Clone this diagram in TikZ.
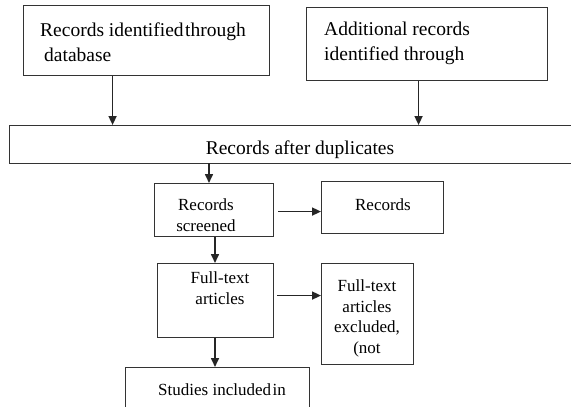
\documentclass[tikz,border=0pt]{standalone}
\usepackage{fontspec}
\setmainfont{Liberation Serif}
\usetikzlibrary{arrows.meta}
\begin{document}
\begin{tikzpicture}[x=1pt,y=-1pt,
  box/.style={draw=black!80,line width=1.1pt,inner sep=0pt,anchor=north west},
  txt/.style={inner sep=0pt,align=left},
  big/.style={font=\fontsize{19.5}{25}\selectfont},
  small/.style={font=\fontsize{17}{20.5}\selectfont},
  arr/.style={draw=black!85,line width=1.6pt,-{Triangle[length=9pt,width=8pt]}}]
\clip (0,0) rectangle (571,407);
\fill[white] (0,0) rectangle (571,407);
% boxes
\node[box,minimum width=246.5pt,minimum height=70pt] (b1) at (22.5,5) {};
\node[box,minimum width=241pt,minimum height=73pt] (b2) at (306,7) {};
\node[box,minimum width=570pt,minimum height=38pt] (b3) at (9,125) {};
\node[box,minimum width=119pt,minimum height=53pt] (b4) at (154,183) {};
\node[box,minimum width=122pt,minimum height=52pt] (b5) at (321,181) {};
\node[box,minimum width=116pt,minimum height=74pt] (b6) at (157,263) {};
\node[box,minimum width=92pt,minimum height=101pt] (b7) at (321,263) {};
\node[box,minimum width=184pt,minimum height=60pt] (b8) at (125,367) {};
% texts
\node[txt,big,anchor=west] (t1) at (40,42.5) {Records identified\hspace{1.5pt}through\\\hspace*{4pt}database};
\node[txt,big,anchor=west] (t2) at (324,43.5) {Additional records\\identified through};
\node[txt,big] (t3) at (300,150) {Records after duplicates};
\node[txt,small,align=center] (t4) at (206,215) {Records\\screened};
\node[txt,small] (t5) at (383,205) {Records};
\node[txt,small,align=center] (t6) at (220,288) {Full-text\\articles};
\node[txt,small,align=center] (t7) at (367,318.5) {Full-text\\articles\\excluded,\\(not};
\node[txt,small] (t8) at (222,390) {Studies included\hspace{1.5pt}in};
% arrows
\draw[arr] ([xshift=-33.75pt]b1.south) -- ([xshift=-33.75pt]b1.south |- b3.north);
\draw[arr] ([xshift=-8.5pt]b2.south) -- ([xshift=-8.5pt]b2.south |- b3.north);
\draw[arr] (b4.north -| 209,0) ++(0,-20) -- (b4.north -| 209,0);
\draw[arr] ([xshift=4pt,yshift=-1.5pt]b4.east) -- ([yshift=-1.5pt]b4.east -| b5.west);
\draw[arr] (b4.south -| 215,0) -- (b6.north -| 215,0);
\draw[arr] ([xshift=3pt,yshift=5pt]b6.east) -- ([yshift=5pt]b6.east -| b7.west);
\draw[arr] (b6.south -| 215,0) -- (b8.north -| 215,0);
\end{tikzpicture}
\end{document}
